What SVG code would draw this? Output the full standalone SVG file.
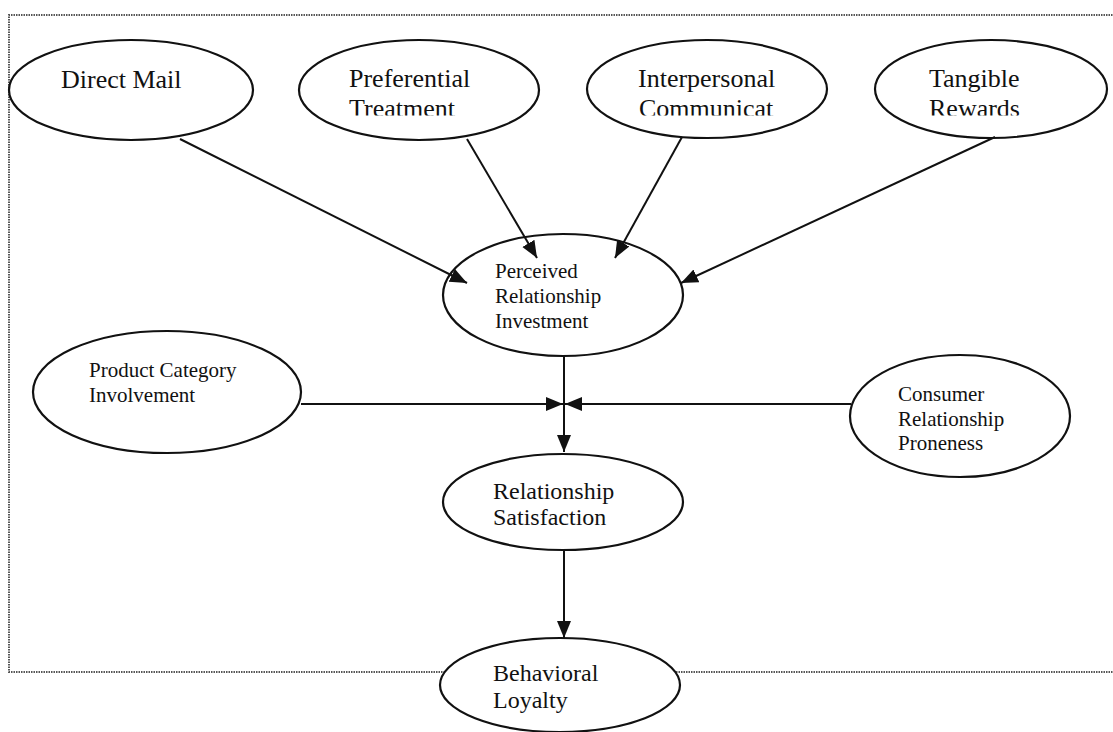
<svg xmlns="http://www.w3.org/2000/svg" width="1113" height="732" viewBox="0 0 1113 732">
  <style>
    .node ellipse { fill: #ffffff; stroke: #111111; stroke-width: 2.2; }
    .big { font-family: "Liberation Serif", "Times New Roman", serif; font-size: 26px; fill: #111111; }
    .small { font-family: "Liberation Serif", "Times New Roman", serif; font-size: 21px; fill: #111111; }
    .mid { font-family: "Liberation Serif", "Times New Roman", serif; font-size: 24px; fill: #111111; }
    .edge { stroke: #111111; stroke-width: 2; fill: none; marker-end: url(#arrow); }
    .frame { fill: none; stroke: #555555; stroke-width: 2; stroke-dasharray: 1.5 1; }
  </style>
  <defs>
    <marker id="arrow" markerUnits="userSpaceOnUse" markerWidth="19" markerHeight="16" refX="17" refY="7" orient="auto">
      <path d="M0,0 L17,7 L0,14 z" fill="#111111"/>
    </marker>
    <clipPath id="clipTop">
      <rect x="0" y="0" width="1113" height="115.5"/>
    </clipPath>
  </defs>
  <rect width="1113" height="732" fill="#ffffff"/>
  <path class="frame" d="M1120,15 L9,15 L9,672 L1120,672"/>

  <g id="direct-mail" class="node">
    <ellipse cx="131" cy="90" rx="122" ry="50"/>
    <text class="big" x="61" y="88">Direct Mail</text>
  </g>
  <g id="preferential-treatment" class="node">
    <ellipse cx="419" cy="90" rx="120" ry="50"/>
    <g clip-path="url(#clipTop)">
      <text class="big" x="349" y="87">Preferential</text>
      <text class="big" x="349" y="117">Treatment</text>
    </g>
  </g>
  <g id="interpersonal-communication" class="node">
    <ellipse cx="707" cy="89" rx="120" ry="49"/>
    <g clip-path="url(#clipTop)">
      <text class="big" x="638" y="87">Interpersonal</text>
      <text class="big" x="639" y="117">Communicat</text>
    </g>
  </g>
  <g id="tangible-rewards" class="node">
    <ellipse cx="991" cy="89" rx="116" ry="49"/>
    <g clip-path="url(#clipTop)">
      <text class="big" x="929" y="87">Tangible</text>
      <text class="big" x="929" y="117">Rewards</text>
    </g>
  </g>
  <g id="perceived-relationship-investment" class="node">
    <ellipse cx="563" cy="295" rx="120" ry="61"/>
    <text class="small" x="495" y="278">Perceived</text>
    <text class="small" x="495" y="303">Relationship</text>
    <text class="small" x="495" y="328">Investment</text>
  </g>
  <g id="product-category-involvement" class="node">
    <ellipse cx="167" cy="392" rx="134" ry="61"/>
    <text class="small" x="89" y="377">Product Category</text>
    <text class="small" x="89" y="402">Involvement</text>
  </g>
  <g id="consumer-relationship-proneness" class="node">
    <ellipse cx="960" cy="416" rx="110" ry="61"/>
    <text class="small" x="898" y="401">Consumer</text>
    <text class="small" x="898" y="426">Relationship</text>
    <text class="small" x="898" y="450">Proneness</text>
  </g>
  <g id="relationship-satisfaction" class="node">
    <ellipse cx="563" cy="502" rx="120" ry="48"/>
    <text class="mid" x="493" y="499">Relationship</text>
    <text class="mid" x="493" y="525">Satisfaction</text>
  </g>
  <g id="behavioral-loyalty" class="node">
    <ellipse cx="560" cy="685" rx="120" ry="47"/>
    <text class="mid" x="493" y="681">Behavioral</text>
    <text class="mid" x="493" y="708">Loyalty</text>
  </g>

  <g id="connectors">
    <line class="edge" x1="180" y1="139" x2="467" y2="283"/>
    <line class="edge" x1="467" y1="139" x2="537" y2="258"/>
    <line class="edge" x1="682" y1="137" x2="615" y2="258"/>
    <line class="edge" x1="995" y1="137" x2="681" y2="283"/>
    <line class="edge" x1="564" y1="356" x2="564" y2="452"/>
    <line class="edge" x1="301" y1="404" x2="563" y2="404"/>
    <line class="edge" x1="851" y1="404" x2="565" y2="404"/>
    <line class="edge" x1="564" y1="550" x2="564" y2="638"/>
  </g>
</svg>
